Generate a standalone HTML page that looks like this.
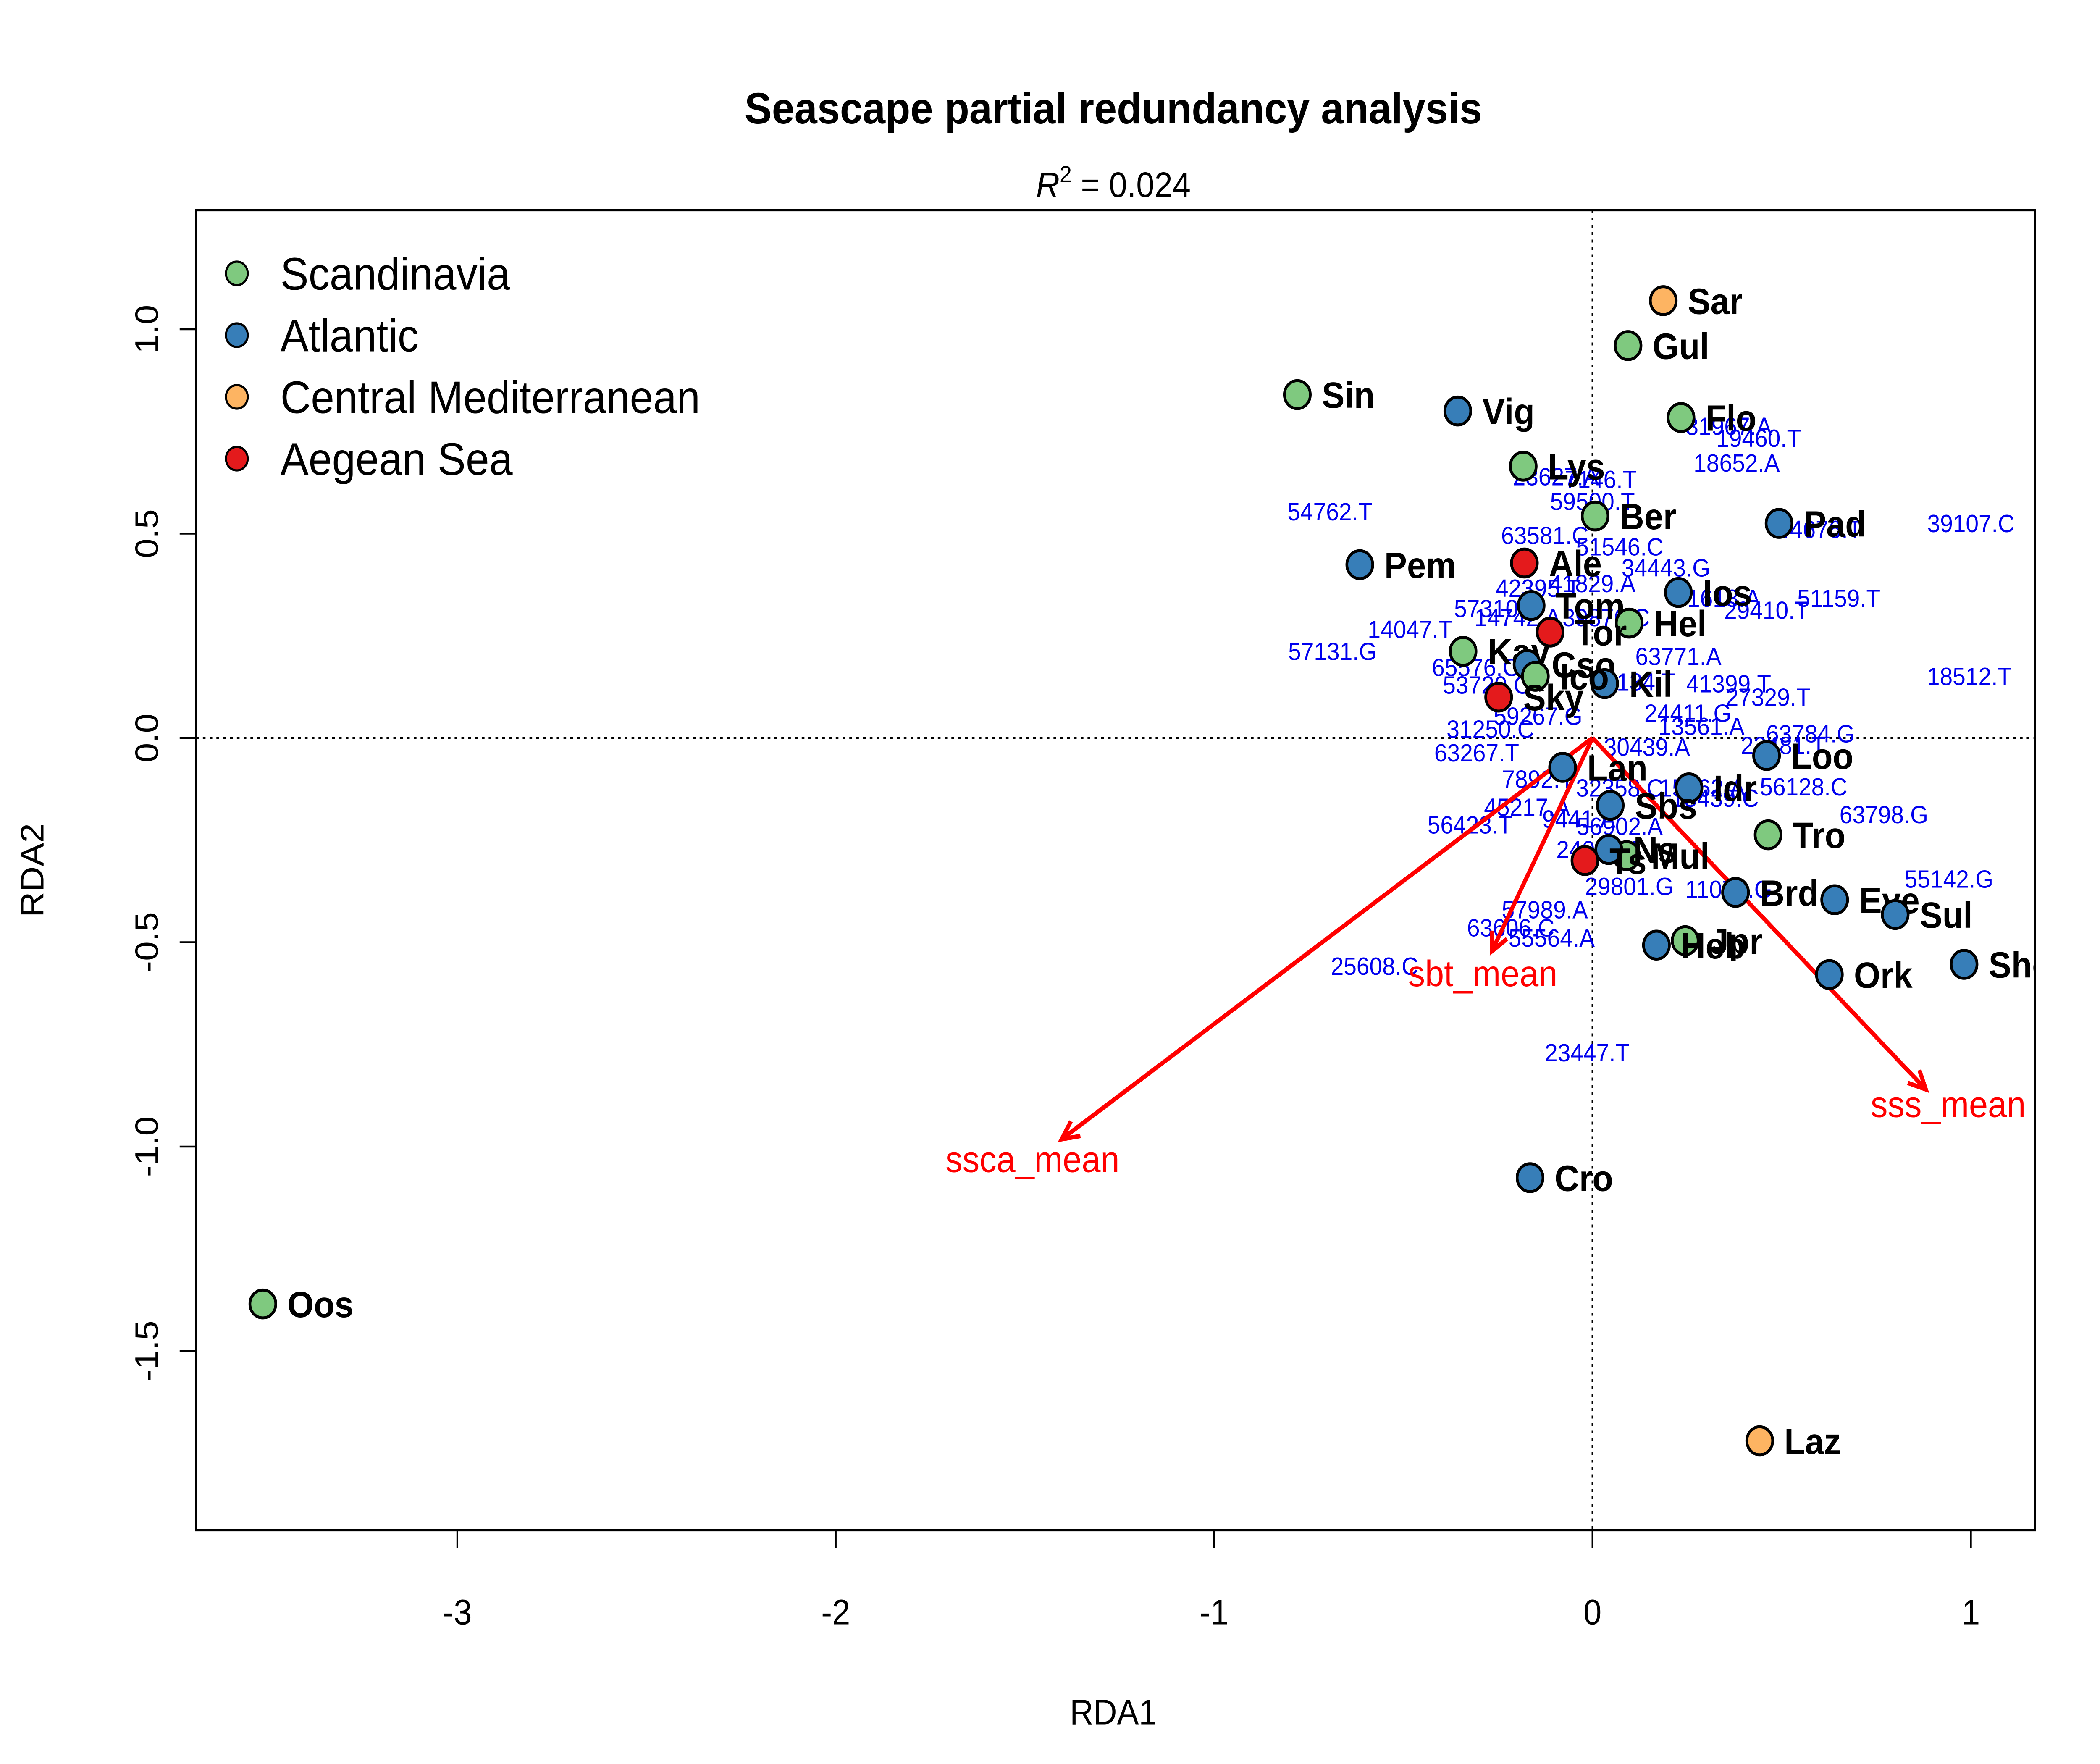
<!DOCTYPE html>
<html><head><meta charset="utf-8"><style>
html,body{margin:0;padding:0;background:#fff;width:100%;height:100%;overflow:hidden}
svg{display:block;position:fixed;left:0;top:0;width:100vw;height:100vh}
text{font-family:"Liberation Sans",Arial,sans-serif}
</style></head><body>
<svg id="chart" viewBox="0 0 1542.857 1200" preserveAspectRatio="none" overflow="hidden" xmlns="http://www.w3.org/2000/svg">
<defs><clipPath id="plotclip"><rect x="144" y="143" width="1351" height="898"/></clipPath></defs>
<rect width="1542.857" height="1200" fill="#fff"/>
<text x="818" y="84" font-size="30" font-weight="bold" text-anchor="middle">Seascape partial redundancy analysis</text>
<text x="818" y="134" font-size="24" text-anchor="middle"><tspan font-style="italic">R</tspan><tspan font-size="16" dy="-10">2</tspan><tspan dy="10"> =  0.024</tspan></text>
<g id="plot" clip-path="url(#plotclip)"></g>
<g id="axes"></g>
<text x="818" y="1173" font-size="24" text-anchor="middle">RDA1</text>
<text transform="translate(32,592) rotate(-90)" font-size="24" text-anchor="middle">RDA2</text>
</svg>
<script>
const xTicks=[-3,-2,-1,0,1];
const yTicks=[-1.5,-1.0,-0.5,0.0,0.5,1.0];
const yTickLabels=["-1.5","-1.0","-0.5","0.0","0.5","1.0"];
const siteNames=["Sin","Vig","Sar","Gul","Flo","Lys","Ber","Pad","Pem","Ale","Ios","Tom","Hel","Tor","Kav","Cso","Kil","Ico","Sky","Loo","Idr","Lan","Sbs","Tro","Mul","Ns","Brd","Eye","Sul","Jpr","Heb","Ork","She","Cro","Oos","Laz","Ts"];
const siteX=[-0.78,-0.356,0.187,0.094,0.234,-0.183,0.007,0.493,-0.615,-0.18,0.227,-0.162,0.097,-0.112,-0.342,-0.173,0.032,-0.151,-0.248,0.46,0.255,-0.079,0.047,0.464,0.090,0.043,0.378,0.64,0.80,0.245,0.169,0.626,0.982,-0.165,-3.514,0.442,-0.02];
const siteY=[0.84,0.80,1.07,0.96,0.784,0.665,0.543,0.525,0.424,0.428,0.356,0.324,0.281,0.259,0.212,0.18,0.133,0.151,0.10,-0.043,-0.122,-0.072,-0.165,-0.237,-0.288,-0.273,-0.378,-0.396,-0.432,-0.496,-0.507,-0.579,-0.554,-1.076,-1.385,-1.72,-0.30];
const siteRegion=[0,1,2,0,0,0,0,1,1,3,1,1,0,3,0,1,1,0,3,1,1,1,1,0,0,1,1,1,1,0,1,1,1,1,0,2,3];
const regionNames=["Scandinavia","Atlantic","Central Mediterranean","Aegean Sea"];
const regionColors=["#7fc97f","#377eb8","#fdb462","#e41a1c"];
const snpNames=["54762.T","57131.G","14047.T","39107.C","18512.T","31967.A","19460.T","18652.A","23627.A","7146.T","59500.T","63581.C","51546.C","34443.G","44676.T","51159.T","29410.T","42395.T","63771.A","65576.C","53720.C","27329.T","63784.G","23481.T","56128.C","63798.G","55142.G","63267.T","56423.T","45217.A","7892.T","29801.G","11071.G","57989.A","63606.C","55564.A","25608.C","23447.T","31250.C","59267.G","30439.A","60134.T","24411.G","13561.A","9441.A","56902.A","24020.A","32358.C","15439.C","41399.T","41829.A","39876.C","14742.A","57310.A","31618.A","15462.A"];
const snpX=[-0.694,-0.687,-0.482,1.0,0.996,0.36,0.439,0.381,-0.097,0.022,0,-0.126,0.072,0.194,0.6,0.651,0.46,-0.144,0.227,-0.309,-0.28,0.464,0.576,0.504,0.558,0.77,0.942,-0.306,-0.324,-0.173,-0.144,0.097,0.36,-0.126,-0.216,-0.108,-0.576,-0.014,-0.27,-0.144,0.144,0.108,0.252,0.288,-0.036,0.072,0.018,0.072,0.324,0.36,0,0.036,-0.198,-0.252,0.33,0.29];
const snpY=[0.554,0.212,0.266,0.525,0.151,0.763,0.734,0.673,0.64,0.633,0.579,0.496,0.468,0.417,0.511,0.342,0.313,0.367,0.2,0.173,0.13,0.1,0.011,-0.018,-0.119,-0.187,-0.345,-0.036,-0.212,-0.169,-0.1,-0.363,-0.37,-0.42,-0.464,-0.489,-0.558,-0.77,0.022,0.054,-0.022,0.137,0.061,0.029,-0.198,-0.216,-0.273,-0.122,-0.147,0.133,0.378,0.295,0.295,0.317,0.342,-0.122];
const envNames=["ssca_mean","sbt_mean","sss_mean"];
const envX=[-1.403,-0.266,0.881];
const envY=[-0.982,-0.522,-0.86];
const envLabelX=[-1.48,-0.29,0.94];
const envLabelY=[-1.03,-0.575,-0.895];

const NS="http://www.w3.org/2000/svg";
const L=144,R=1495,T=143,B=1041;
const sx=v=>1170+278*v, sy=v=>502-278*v;
const g=document.getElementById('plot');
const ax=document.getElementById('axes');
function mk(tag,attrs,parent){const e=document.createElementNS(NS,tag);for(const k in attrs)e.setAttribute(k,attrs[k]);(parent||g).appendChild(e);return e;}

let e=mk('line',{x1:sx(0),x2:sx(0),y1:T,y2:B,stroke:'#000','stroke-width':1.3,'stroke-dasharray':'2,3'});


e=mk('line',{x1:L,x2:R,y1:sy(0),y2:sy(0),stroke:'#000','stroke-width':1.3,'stroke-dasharray':'2,3'});



snpNames.forEach((n,i)=>{
  const t=mk('text',{x:sx(snpX[i]),y:sy(snpY[i])+6,'font-size':17,fill:'#0000ee','text-anchor':'middle'});
  t.textContent=n;
  
  
});

envNames.forEach((n,i)=>{
  const x2=sx(envX[i]),y2=sy(envY[i]),x1=sx(0),y1=sy(0);
  const a=mk('line',{x1,y1,x2,y2,stroke:'#ff0000','stroke-width':3});
  
  
  const ang=Math.atan2(y2-y1,x2-x1),h=14;
  const p=mk('polyline',{points:`${x2-h*Math.cos(ang-0.45)},${y2-h*Math.sin(ang-0.45)} ${x2},${y2} ${x2-h*Math.cos(ang+0.45)},${y2-h*Math.sin(ang+0.45)}`,fill:'none',stroke:'#ff0000','stroke-width':3});
  
  
  const t=mk('text',{x:sx(envLabelX[i]),y:sy(envLabelY[i])+9,'font-size':25,fill:'#ff0000','text-anchor':'middle'});
  t.textContent=n;
  
  
});

siteNames.forEach((n,i)=>{
  const c=mk('circle',{cx:sx(siteX[i]),cy:sy(siteY[i]),r:9.5,fill:regionColors[siteRegion[i]],stroke:'#000','stroke-width':2});
  
  
  const t=mk('text',{x:sx(siteX[i])+18,y:sy(siteY[i])+9,'font-size':25,'font-weight':'bold',fill:'#000'});
  t.textContent=n;
  
  
});

e=mk('rect',{x:L,y:T,width:R-L,height:B-T,fill:'none',stroke:'#000','stroke-width':1.5},ax);



xTicks.forEach(v=>{
  const l=mk('line',{x1:sx(v),x2:sx(v),y1:B,y2:B+12,stroke:'#000','stroke-width':1.3},ax);
  
  
  const t=mk('text',{x:sx(v),y:B+64,'font-size':24,'text-anchor':'middle'},ax);
  t.textContent=String(v);
  
  
});
e=mk('line',{x1:sx(-3),x2:sx(1),y1:B,y2:B,stroke:'#000','stroke-width':1.3},ax);


yTicks.forEach((v,i)=>{
  const l=mk('line',{x1:L-12,x2:L,y1:sy(v),y2:sy(v),stroke:'#000','stroke-width':1.3},ax);
  
  
  const t=mk('text',{transform:`translate(${L-28},${sy(v)}) rotate(-90)`,'font-size':24,'text-anchor':'middle'},ax);
  t.textContent=yTickLabels[i];
  
  
});
e=mk('line',{x1:L,x2:L,y1:sy(-1.5),y2:sy(1.0),stroke:'#000','stroke-width':1.3},ax);



regionNames.forEach((n,i)=>{
  const y=186+42*i;
  const c=mk('circle',{cx:174,cy:y,r:8,fill:regionColors[i],stroke:'#000','stroke-width':1.5},ax);
  
  
  const t=mk('text',{x:206,y:y+11,'font-size':31},ax);
  t.textContent=n;
  
  
});
</script>
</body></html>
